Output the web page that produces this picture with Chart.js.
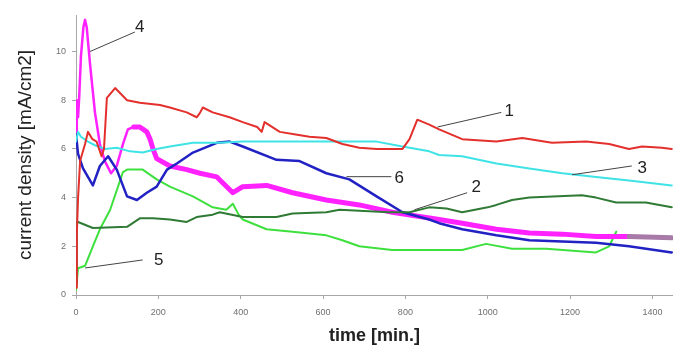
<!DOCTYPE html>
<html>
<head>
<meta charset="utf-8">
<script src="https://cdn.jsdelivr.net/npm/chart.js@4/dist/chart.umd.min.js"></script>
<style>
html,body{margin:0;padding:0;background:#fff;}
#wrap{width:673px;height:349px;position:relative;}
</style>
</head>
<body>
<div id="wrap"><canvas id="c"></canvas></div>
<script>
// ---- data (time in minutes, current density in mA/cm2) ----
const xTicks = [0, 200, 400, 600, 800, 1000, 1200, 1400];
const yTicks = [0, 2, 4, 6, 8, 10];

const s1Time = [0,2,5,10,22,29,40,50,62,68,75,95,124,155,204,228,269,293,300,308,332,373,405,440,451,458,495,530,567,608,647,688,730,793,810,829,858,882,938,1021,1084,1156,1239,1295,1343,1375,1423,1447];
const s1Val  = [0.3,2.5,4.0,5.5,6.2,6.7,6.4,6.3,5.7,6.0,8.1,8.5,8.0,7.9,7.8,7.7,7.5,7.3,7.45,7.7,7.5,7.3,7.1,6.9,6.7,7.1,6.7,6.6,6.5,6.45,6.2,6.05,6.0,6.0,6.4,7.2,7.0,6.8,6.4,6.3,6.45,6.25,6.3,6.2,6.0,6.1,6.05,6.0];

const s2Time = [0,2,5,41,124,155,187,228,269,293,332,349,405,487,526,608,640,700,760,810,822,858,900,938,1000,1021,1059,1101,1229,1263,1312,1384,1447];
const s2Val  = [0.5,3.0,3.0,2.75,2.8,3.15,3.15,3.1,3.0,3.2,3.3,3.4,3.2,3.2,3.35,3.4,3.5,3.45,3.4,3.4,3.45,3.6,3.55,3.4,3.6,3.7,3.9,4.0,4.1,4.0,3.8,3.8,3.6];

const s3Time = [0,5,12,29,46,70,99,131,162,196,228,284,349,405,487,608,730,793,858,882,938,1021,1101,1181,1263,1343,1447];
const s3Val  = [6.3,6.7,6.5,6.3,6.15,6.0,6.05,5.9,5.85,6.0,6.1,6.25,6.25,6.3,6.3,6.3,6.3,6.1,5.9,5.75,5.7,5.4,5.2,5.0,4.85,4.7,4.5];

const s4Time = [0,2,5,8,12,18,22,26,34,46,58,70,85,99,114,126,140,155,172,180,187,196,228,269,301,342,381,405,463,526,608,688,768,882,938,1021,1101,1181,1263,1343,1447];
const s4Val  = [6.5,8.0,7.3,8.2,9.8,11.0,11.3,11.0,9.5,7.5,6.2,5.5,5.0,5.3,6.2,6.8,6.9,6.9,6.7,6.4,6.0,5.6,5.3,5.15,5.0,4.85,4.2,4.45,4.5,4.2,3.9,3.7,3.4,3.1,2.95,2.7,2.55,2.5,2.4,2.4,2.35];

const s5Time = [0,5,22,41,58,83,107,114,124,162,196,228,284,332,365,381,395,405,463,526,608,647,688,768,858,938,996,1059,1142,1263,1295,1312];
const s5Val  = [0.2,1.1,1.2,2.0,2.7,3.5,4.7,5.05,5.15,5.15,4.75,4.45,4.05,3.6,3.5,3.75,3.3,3.1,2.7,2.6,2.45,2.25,2.0,1.85,1.85,1.85,2.1,1.9,1.9,1.75,2.0,2.6];

const s6Time = [0,5,17,41,58,78,99,124,148,172,196,221,245,284,342,373,405,487,543,608,664,730,793,858,882,938,1021,1101,1181,1263,1343,1447];
const s6Val  = [6.6,5.8,5.2,4.5,5.3,5.7,5.15,4.05,3.9,4.2,4.45,5.15,5.4,5.85,6.25,6.3,6.1,5.55,5.5,5.0,4.75,4.05,3.4,3.1,2.95,2.7,2.45,2.25,2.2,2.15,2.0,1.75];

// curve labels with leader lines (data units)
const labelText    = ['4', '1', '3', '2', '6', '5'];
const labelTime    = [155, 1052, 1375, 972, 785, 201];
const labelVal     = [11.0, 7.53, 5.2, 4.44, 4.8, 1.44];
const leaderFromT  = [34, 878, 1205, 822, 657, 22];
const leaderFromV  = [10.0, 6.9, 4.94, 3.5, 4.86, 1.11];
const leaderToT    = [143, 1033, 1350, 950, 766, 162];
const leaderToV    = [10.8, 7.5, 5.3, 4.2, 4.86, 1.44];

function pts(t, v){ return t.map((x,i)=>({x:x, y:v[i]})); }

const labelPlugin = {
  id: 'curveLabels',
  afterDatasetsDraw(chart){
    const ctx = chart.ctx, xs = chart.scales.x, ys = chart.scales.y;
    ctx.save();
    ctx.strokeStyle = '#444';
    ctx.lineWidth = 1;
    ctx.fillStyle = '#222';
    ctx.font = '17px "Liberation Sans", Arial, sans-serif';
    ctx.textAlign = 'center';
    ctx.textBaseline = 'middle';
    for (let i = 0; i < labelText.length; i++) {
      ctx.beginPath();
      ctx.moveTo(xs.getPixelForValue(leaderFromT[i]), ys.getPixelForValue(leaderFromV[i]));
      ctx.lineTo(xs.getPixelForValue(leaderToT[i]), ys.getPixelForValue(leaderToV[i]));
      ctx.stroke();
      ctx.fillText(labelText[i], xs.getPixelForValue(labelTime[i]), ys.getPixelForValue(labelVal[i]));
    }
    ctx.restore();
  }
};

const base = {pointRadius:0, tension:0, fill:false, borderJoinStyle:'round', borderCapStyle:'round'};
new Chart(document.getElementById('c'), {
  type: 'line',
  data: {
    datasets: [
      Object.assign({label:'1', data: pts(s1Time, s1Val), borderColor:'#e3302c', borderWidth:2}, base),
      Object.assign({label:'2', data: pts(s2Time, s2Val), borderColor:'#2f7a34', borderWidth:2}, base),
      Object.assign({label:'3', data: pts(s3Time, s3Val), borderColor:'#3fe3e6', borderWidth:2}, base),
      Object.assign({label:'6', data: pts(s6Time, s6Val), borderColor:'#2222c4', borderWidth:2.5}, base),
      Object.assign({label:'4', data: pts(s4Time, s4Val), borderColor:'#ff22ff', borderWidth:2.5,
        segment: {
          borderWidth: c => c.p0.parsed.x >= 140 ? 5 : 2.5,
          borderColor: c => c.p0.parsed.x >= 1290 ? '#a87aa8' : '#ff22ff'
        }}, base),
      Object.assign({label:'5', data: pts(s5Time, s5Val), borderColor:'#3ee03e', borderWidth:2}, base)
    ]
  },
  options: {
    responsive: true,
    maintainAspectRatio: false,
    animation: false,
    layout: {padding: {top: 15, right: 0, left: 0, bottom: 0}},
    plugins: {legend: {display:false}, tooltip: {enabled:false}},
    scales: {
      x: {
        type: 'linear', min: 0, max: 1450,
        afterBuildTicks: s => { s.ticks = xTicks.map(v => ({value: v})); },
        afterFit: s => { s.height = 54; },
        grid: {drawOnChartArea:false, drawTicks:true, tickLength:4, color:'#a8a8a8'},
        border: {color:'#a8a8a8'},
        ticks: {font:{size:9, family:'"Liberation Sans", Arial, sans-serif'}, color:'#707070', padding:8, maxRotation:0,
          callback: v => String(v)},
        title: {display:true, text:'time [min.]', color:'#222',
          font:{size:18, weight:'bold', family:'"Liberation Sans", Arial, sans-serif'}, padding:{top:0,bottom:2}}
      },
      y: {
        min: 0, max: 11.5,
        afterBuildTicks: s => { s.ticks = yTicks.map(v => ({value: v})); },
        afterFit: s => { s.width = 76; },
        grid: {drawOnChartArea:false, drawTicks:true, tickLength:4, color:'#a8a8a8'},
        border: {color:'#a8a8a8'},
        ticks: {font:{size:9, family:'"Liberation Sans", Arial, sans-serif'}, color:'#707070', padding:6,
          callback: v => String(v)},
        title: {display:true, text:'current density [mA/cm2]', color:'#222',
          font:{size:19, family:'"Liberation Sans", Arial, sans-serif'}, padding:{top:14,bottom:0}}
      }
    }
  },
  plugins: [labelPlugin]
});
</script>
</body>
</html>
